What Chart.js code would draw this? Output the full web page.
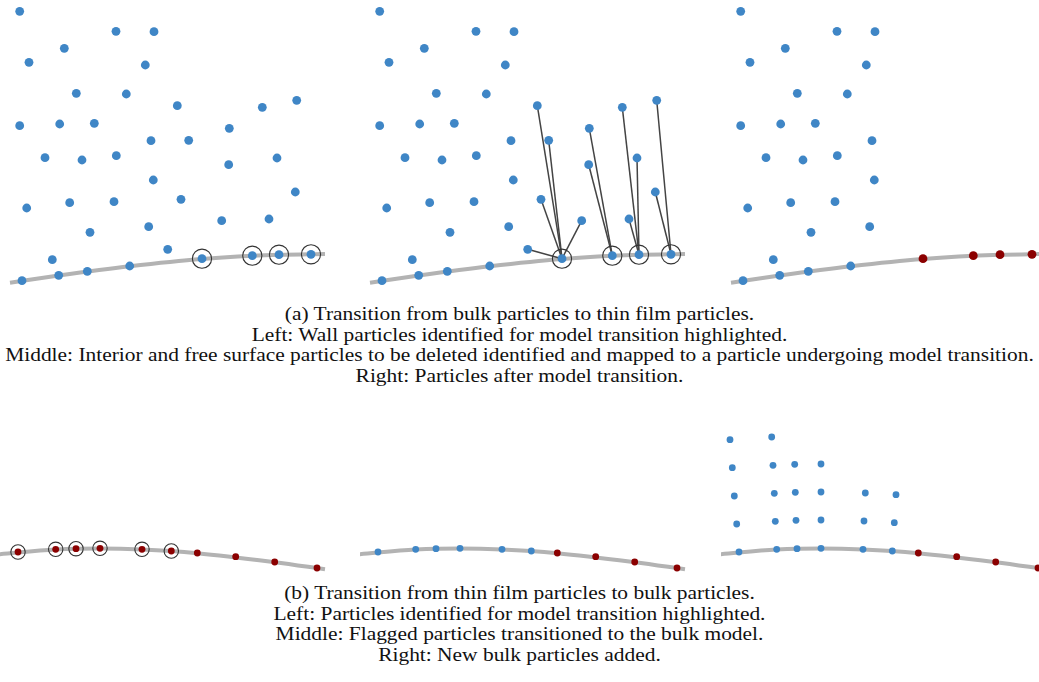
<!DOCTYPE html>
<html>
<head>
<meta charset="utf-8">
<script src="https://cdn.jsdelivr.net/npm/chart.js@4"></script>
<style>
  html, body { margin: 0; padding: 0; background: #fff; }
  body { width: 1039px; height: 682px; position: relative; overflow: hidden; }
  .panel { position: absolute; }
  .caption {
    position: absolute; left: 0; width: 1039px; text-align: center;
    font-family: "Liberation Serif", "Times New Roman", serif;
    font-size: 18px; line-height: 20.7px; color: #111;
    transform: scaleX(1.19); transform-origin: 519.5px 0;
  }
</style>
</head>
<body>
<div class="caption" id="capA" style="top:304px">
  (a) Transition from bulk particles to thin film particles.<br>
  Left: Wall particles identified for model transition highlighted.<br>
  Middle: Interior and free surface particles to be deleted identified and mapped to a particle undergoing model transition.<br>
  Right: Particles after model transition.
</div>
<div class="caption" id="capB" style="top:583px">
  (b) Transition from thin film particles to bulk particles.<br>
  Left: Particles identified for model transition highlighted.<br>
  Middle: Flagged particles transitioned to the bulk model.<br>
  Right: New bulk particles added.
</div>
<script>
// ---- (a) bulk -> thin film: particle coordinates (x right, y down) ----
const bulkX = [19.7,116,154,64.3,29,145.3,76.3,126.3,177.3,262.3,296.7,19.7,59.7,94.3,229.3,151,188.7,45,82,116.3,228.7,277,153.3,295.3,26.7,69.7,114,181,221.7,269,90,148.7,167.7,52.3];
const bulkY = [11.3,31.3,31.7,48.3,62.3,65,93.3,94,105.7,107.3,100.3,125.7,124,123.3,128.3,140.7,140.3,157.7,160,155.7,164.7,158,180,192,208,202.7,201.7,199.3,220.7,219,232.3,226.7,249.3,259.7];
const wallX = [22,58.7,87.3,129.7,202,252.3,279,311];
const wallY = [280.7,275.3,271.3,266,258.7,255.7,254.7,254.3];
const wallSwitch = [4,5,6,7];                 // wall particles that become thin film
const deleteIdx    = [8,16,27,28,32,14,20,9,21,29,10,23];  // bulk particles removed
const deleteTarget = [4,4,4,4,4,5,5,6,6,6,7,7];            // wall particle each one maps to
const surfaceAX = [10,58.7,129.7,202,279,325];
const surfaceAY = [282.7,275.5,266.2,258.9,254.8,254];

// ---- (b) thin film -> bulk ----
const filmX = [18,55.7,76,100,142,171.3,197.3,235.7,274.7,317];
const filmY = [132,129.3,128.7,128.3,129.3,131,133,136.7,142,148];
const filmFlag = [0,1,2,3,4,5];
const newBulkX = [9,50.7,11.3,52,73.7,100,13.3,53.3,74.3,100,144.3,175,15.7,54.3,75,100,143,173.3];
const newBulkY = [19.7,17,47.7,45.3,44.3,44,76,73.3,72.3,72,73,74.7,104,101.3,100.3,100,101,102.7];
const surfaceBX = [-1,55.7,100,142,197.3,274.7,325];
const surfaceBY = [134.3,129.6,128.5,129.5,133.2,142.2,149.2];

const BLUE = '#3f86c6', RED = '#8b0000', GREY = '#b3b3b3', RING = '#333333', LINK = '#444444';

const pts = (xs, ys, idx) => (idx || xs.map((_, i) => i)).map(i => ({ x: xs[i], y: ys[i] }));
const allBut = (n, drop) => [...Array(n).keys()].filter(i => !drop.includes(i));

function surface(xs, ys) {
  return { data: pts(xs, ys), showLine: true, borderColor: GREY, borderWidth: 4,
           pointRadius: 0, cubicInterpolationMode: 'monotone', order: 10, clip: false };
}
function dots(data, color, r) {
  return { data, backgroundColor: color, borderWidth: 0, pointRadius: r, pointHoverRadius: r, order: 0, clip: false };
}
function rings(data, r) {
  return { data, backgroundColor: 'rgba(0,0,0,0)', borderColor: RING, borderWidth: 1.1,
           pointRadius: r, pointHoverRadius: r, order: 1, clip: false };
}

function panel(left, top, w, h, datasets) {
  const box = document.createElement('div');
  box.className = 'panel';
  box.style.cssText = `left:${left}px;top:${top}px;width:${w}px;height:${h}px`;
  const c = document.createElement('canvas');
  c.width = w; c.height = h;
  c.style.width = w + 'px'; c.style.height = h + 'px';
  box.appendChild(c);
  document.body.appendChild(box);
  new Chart(c, {
    type: 'scatter',
    data: { datasets },
    options: {
      responsive: false, animation: false, devicePixelRatio: 1,
      layout: { padding: 0, autoPadding: false },
      plugins: { legend: { display: false }, tooltip: { enabled: false } },
      scales: {
        x: { type: 'linear', min: 0, max: w, display: false },
        y: { type: 'linear', min: 0, max: h, reverse: true, display: false }
      }
    }
  });
}

// (a) left: wall particles flagged for transition
panel(0, 0, 345, 292, [
  dots(pts(bulkX, bulkY), BLUE, 4.4),
  dots(pts(wallX, wallY), BLUE, 4.4),
  rings(pts(wallX, wallY, wallSwitch), 9.6),
  surface(surfaceAX, surfaceAY)
]);

// (a) middle: deleted particles mapped to their wall particle
const links = deleteIdx.map((b, k) => ({
  data: [{ x: bulkX[b], y: bulkY[b] }, { x: wallX[deleteTarget[k]], y: wallY[deleteTarget[k]] }],
  showLine: true, borderColor: LINK, borderWidth: 1.5, pointRadius: 0, order: 5, clip: false
}));
panel(360, 0, 345, 292, [
  dots(pts(bulkX, bulkY), BLUE, 4.4),
  dots(pts(wallX, wallY), BLUE, 4.4),
  rings(pts(wallX, wallY, wallSwitch), 9.6),
  ...links,
  surface(surfaceAX, surfaceAY)
]);

// (a) right: after the transition
const wallKeep = allBut(wallX.length, wallSwitch);
panel(721, 0, 318, 292, [
  dots(pts(bulkX, bulkY, allBut(bulkX.length, deleteIdx)), BLUE, 4.4),
  dots(pts(wallX, wallY, wallKeep), BLUE, 4.4),
  dots(pts(wallX, wallY, wallSwitch), RED, 4.4),
  surface(surfaceAX, surfaceAY)
]);

// (b) left: film particles flagged
panel(0, 420, 345, 160, [
  dots(pts(filmX, filmY), RED, 3.4),
  rings(pts(filmX, filmY, filmFlag), 7.2),
  surface(surfaceBX, surfaceBY)
]);

// (b) middle: flagged particles now bulk
const filmRest = allBut(filmX.length, filmFlag);
panel(360, 420, 345, 160, [
  dots(pts(filmX, filmY, filmFlag), BLUE, 3.4),
  dots(pts(filmX, filmY, filmRest), RED, 3.4),
  surface(surfaceBX, surfaceBY)
]);

// (b) right: new bulk particles added above
panel(721, 420, 318, 160, [
  dots(pts(newBulkX, newBulkY), BLUE, 3.4),
  dots(pts(filmX, filmY, filmFlag), BLUE, 3.4),
  dots(pts(filmX, filmY, filmRest), RED, 3.4),
  surface(surfaceBX, surfaceBY)
]);
</script>
</body>
</html>
